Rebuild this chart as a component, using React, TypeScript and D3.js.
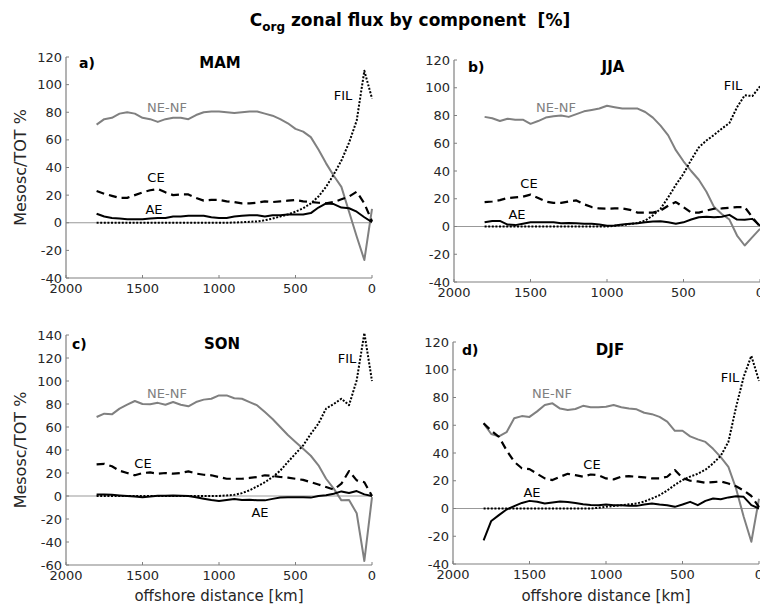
import React from "react";
import * as d3 from "d3";

const DIST = [1800, 1750, 1700, 1650, 1600, 1550, 1500, 1450, 1400, 1350, 1300, 1250, 1200, 1150, 1100, 1050, 1000, 950, 900, 850, 800, 750, 700, 650, 600, 550, 500, 450, 400, 350, 300, 250, 200, 150, 100, 50, 0];
const X_TICKS = [2000, 1500, 1000, 500, 0];
const SERIES_NAMES = ["NE-NF", "FIL", "CE", "AE"];

// MAM
const MAM_NENF = [71, 75, 76, 79, 80, 79, 76, 75, 73, 75, 76, 76, 75, 78, 80, 80.5, 80.5, 80, 79.5, 80, 80.5, 80.5, 79, 77.5, 75, 72, 68, 66, 62, 53, 43, 34, 26, 8, -10, -27, 10];
const MAM_FIL = [0, 0, 0, 0, 0, 0, 0, 0, 0, 0, 0, 0, 0, 0, 0, 0, 0, 0, 0.2, 0.4, 0.7, 1, 1.8, 3, 4.5, 6, 8, 10.5, 14, 19, 26, 35, 45, 58, 74, 110, 90];
const MAM_CE = [23, 21, 19.5, 18, 18, 20, 22, 23.5, 24.5, 22, 20, 20.5, 20.5, 18, 16, 16.5, 16.5, 15.5, 15, 14, 14, 14.5, 15.5, 15, 15.5, 16, 16.5, 15.5, 15, 14.5, 14, 15, 17, 19, 22.5, 14, 1];
const MAM_AE = [6.5, 4.5, 3.5, 3, 2.5, 2.5, 2.5, 3, 3.5, 3.5, 4.5, 4.5, 5, 5, 5, 4, 3.5, 3.5, 4.5, 5, 5.5, 5.5, 4.5, 5.5, 5.5, 6, 6, 6, 7, 11, 14, 13.5, 11, 10.5, 8, 4, 0.5];

// JJA
const JJA_NENF = [79, 78, 76, 77.7, 77, 77, 74, 76, 78.5, 79.4, 80, 79, 81, 83, 84, 85, 87, 86, 85, 85, 85, 82.5, 78.5, 72.7, 65.7, 55, 47, 40, 33.7, 25, 14, 9, 5, -6.5, -13.7, -7.7, -1.7];
const JJA_FIL = [0, 0, 0, 0, 0, 0, 0, 0, 0, 0, 0, 0, 0, 0, 0, 0, 0, 0.5, 1, 1.8, 2.6, 4.3, 8, 12.8, 21, 30, 38, 48, 57, 62, 66, 70.5, 74.6, 86, 94.6, 94, 101];
const JJA_CE = [17.6, 18, 19, 20.5, 21, 21.5, 23, 20.5, 18, 17, 17, 18, 18.8, 16, 14, 13, 12.8, 13, 13, 12, 10, 10, 10, 11.5, 15, 17.6, 14, 10, 10, 11.5, 12.8, 13, 13.5, 14, 14, 6.7, 0];
const JJA_AE = [3, 4, 4, 1.4, 1, 2, 3, 3, 3, 3, 2.4, 2.6, 2.4, 2, 2, 1.5, 0.5, 0.8, 1.4, 2, 2.4, 3, 3.6, 3.8, 3, 2, 3, 5, 6.7, 7, 6.7, 7, 8.4, 5, 4.8, 5.5, 0.5];

// SON
const SON_NENF = [68.7, 71.6, 71, 76, 79.4, 82.6, 80, 79.7, 81, 79.4, 81.7, 79.4, 78, 81.7, 83.8, 84.6, 87.5, 87.5, 85, 84.6, 81.7, 78.8, 73, 67, 60, 53, 47, 41, 35, 26.7, 15, 6.4, -3.8, -3.5, -15, -56.5, -1];
const SON_FIL = [0, 0, 0, 0, 0, 0, 0, 0, 0, 0, 0, 0, 0, 0, 0, 0, 0, 0.5, 1, 2.5, 5, 8.4, 12, 16.5, 22, 29.6, 36.8, 44, 54, 63, 76, 80, 84.6, 79, 100.6, 141.7, 100];
const SON_CE = [27.5, 28, 25.8, 22, 20, 18, 20, 20.5, 19.4, 20, 19.4, 20, 21.4, 19.5, 18.5, 18, 16.5, 15, 15, 15, 15.7, 16.5, 18, 17.5, 16.5, 16, 15, 14, 12, 10, 7.8, 5.5, 10.7, 21.7, 13.6, 12, 0];
const SON_AE = [1.4, 1.2, 1, 0.5, 0, -0.5, -1, -0.5, 0.3, 0.3, 0.5, 0.3, 0, -1, -2.3, -3.5, -4.3, -3.5, -2.6, -3.5, -3.2, -3.8, -3.8, -2.5, -1.4, -1, -1, -1, -1.4, 0, 0.6, 2, 4, 2.6, 4.3, 1.4, 0];

// DJF
const DJF_NENF = [61.4, 53.7, 52, 55, 65, 66.6, 66, 70, 74.6, 75.8, 72, 71, 71.7, 74, 73, 73, 73.4, 74.6, 73, 72, 71.5, 69, 68, 66, 62.6, 56, 56, 52, 49.8, 48, 43, 37, 30, 14.4, -6, -24, 7];
const DJF_FIL = [0, 0, 0, 0, 0, 0, 0, 0, 0, 0, 0, 0, 0, 0, 0, 0.5, 1.2, 1.8, 2.4, 3, 3.6, 5, 7.2, 9.6, 13, 17, 20.5, 23, 25, 28, 32.5, 38, 48, 73, 95, 110, 92];
const DJF_CE = [61.4, 56, 51.7, 42, 33.7, 29, 28.4, 25, 21.7, 20.5, 22.9, 25, 24, 22.9, 24.5, 24, 21.7, 21, 22.9, 23.3, 22.9, 22.5, 21.7, 21.7, 22.9, 27.7, 22, 20, 19.5, 18.5, 19, 19.5, 18, 16, 13, 9, 1];
const DJF_AE = [-22.9, -9, -4.8, -0.7, 1.7, 4, 5.5, 4.8, 3.6, 4.3, 5, 4.6, 4, 3, 2.6, 2.4, 2.9, 2.4, 2.4, 1.9, 1.9, 2.9, 3.6, 2.9, 2.4, 1.2, 2.9, 4.8, 2.4, 5.5, 7.2, 6.7, 8, 8.9, 8.4, 2.4, 0];

const FONT = "DejaVu Sans, Verdana, sans-serif";
const TXT = "#262626";
const GREY = "#808080";

type Panel = {
  tag: string;
  season: string;
  series: number[][];
  yDomain: [number, number];
  yTicks: number[];
  x0: number; x1: number; yT: number; yB: number;
  lab: { [k: string]: [number, number] };
  tagPos: [number, number];
  seasonPos: [number, number];
  showYLabel: boolean;
  showXLabel: boolean;
};

const yt1 = d3.range(-40, 121, 20);
const yt2 = d3.range(-60, 141, 20);

const PANELS: Panel[] = [
  {
    tag: "a)", season: "MAM", series: [MAM_NENF, MAM_FIL, MAM_CE, MAM_AE],
    yDomain: [-40, 120], yTicks: yt1, x0: 66, x1: 372, yT: 57, yB: 278,
    lab: { "NE-NF": [167, 107], FIL: [343, 95], CE: [156, 177], AE: [154, 209] },
    tagPos: [79, 68], seasonPos: [220, 68], showYLabel: true, showXLabel: false,
  },
  {
    tag: "b)", season: "JJA", series: [JJA_NENF, JJA_FIL, JJA_CE, JJA_AE],
    yDomain: [-40, 120], yTicks: yt1, x0: 454, x1: 760, yT: 60, yB: 282,
    lab: { "NE-NF": [556, 107], FIL: [733, 85], CE: [529, 183], AE: [517, 214] },
    tagPos: [468, 72], seasonPos: [613, 72], showYLabel: false, showXLabel: false,
  },
  {
    tag: "c)", season: "SON", series: [SON_NENF, SON_FIL, SON_CE, SON_AE],
    yDomain: [-60, 140], yTicks: yt2, x0: 66, x1: 372, yT: 335, yB: 565,
    lab: { "NE-NF": [167, 393], FIL: [347, 358], CE: [143, 463], AE: [260, 512] },
    tagPos: [72, 349], seasonPos: [222, 349], showYLabel: true, showXLabel: true,
  },
  {
    tag: "d)", season: "DJF", series: [DJF_NENF, DJF_FIL, DJF_CE, DJF_AE],
    yDomain: [-40, 120], yTicks: yt1, x0: 453, x1: 759, yT: 342, yB: 564,
    lab: { "NE-NF": [552, 393], FIL: [730, 377], CE: [592, 464], AE: [532, 492] },
    tagPos: [462, 355], seasonPos: [610, 355], showYLabel: false, showXLabel: true,
  },
];

const STYLES = [
  { stroke: GREY, dash: undefined as string | undefined, w: 2 },
  { stroke: "#000", dash: "2,1.6", w: 2 },
  { stroke: "#000", dash: "8,5", w: 2.2 },
  { stroke: "#000", dash: undefined as string | undefined, w: 2 },
];

function PanelView({ p }: { p: Panel }) {
  const x = d3.scaleLinear().domain([2000, 0]).range([p.x0, p.x1]);
  const y = d3.scaleLinear().domain(p.yDomain).range([p.yB, p.yT]);
  const line = d3.line<number>().x((_, i) => x(DIST[i])).y((v) => y(v));
  const order = [0, 2, 3, 1];
  return (
    <g>
      <line x1={p.x0} x2={p.x1} y1={y(0)} y2={y(0)} stroke="#999" strokeWidth={1} />
      <line x1={p.x0} x2={p.x0} y1={p.yT} y2={p.yB} stroke={GREY} strokeWidth={1.2} />
      <line x1={p.x0} x2={p.x1} y1={p.yB} y2={p.yB} stroke={GREY} strokeWidth={1.2} />
      {p.yTicks.map((t) => (
        <g key={"y" + t}>
          <line x1={p.x0} x2={p.x0 + 3} y1={y(t)} y2={y(t)} stroke={GREY} strokeWidth={1} />
          <text x={p.x0 - 4} y={y(t) + 4.5} textAnchor="end" fontSize={13} fill={TXT} fontFamily={FONT}>{t}</text>
        </g>
      ))}
      {X_TICKS.map((t) => (
        <g key={"x" + t}>
          <line x1={x(t)} x2={x(t)} y1={p.yB} y2={p.yB - 3} stroke={GREY} strokeWidth={1} />
          <text x={x(t)} y={p.yB + 15} textAnchor="middle" fontSize={13} fill={TXT} fontFamily={FONT}>{t}</text>
        </g>
      ))}
      {order.map((k) => (
        <path key={k} d={line(p.series[k]) || ""} fill="none" stroke={STYLES[k].stroke}
          strokeWidth={STYLES[k].w} strokeDasharray={STYLES[k].dash} strokeLinejoin="round" />
      ))}
      {SERIES_NAMES.map((n, k) => (
        <text key={n} x={p.lab[n][0]} y={p.lab[n][1] + 5} textAnchor="middle" fontSize={13}
          fill={k === 0 ? GREY : "#000"} fontFamily={FONT}>{n}</text>
      ))}
      <text x={p.tagPos[0]} y={p.tagPos[1]} fontSize={14} fontWeight="bold" fill="#000" fontFamily={FONT}>{p.tag}</text>
      <text x={p.seasonPos[0]} y={p.seasonPos[1]} textAnchor="middle" fontSize={15} fontWeight="bold" fill="#000" fontFamily={FONT}>{p.season}</text>
      {p.showYLabel && (
        <text transform={`translate(26,${(p.yT + p.yB) / 2}) rotate(-90)`} textAnchor="middle" fontSize={16} fill={TXT} fontFamily={FONT}>Mesosc/TOT %</text>
      )}
      {p.showXLabel && (
        <text x={(p.x0 + p.x1) / 2} y={601} textAnchor="middle" fontSize={15} fill={TXT} fontFamily={FONT}>offshore distance [km]</text>
      )}
    </g>
  );
}

export default function App() {
  return (
    <svg width={760} height={606} style={{ position: "absolute", left: 0, top: 0, background: "#fff" }}>
      <rect width={760} height={606} fill="#fff" />
      <text x={410} y={26} textAnchor="middle" fontSize={17} fontWeight="bold" fill="#000" fontFamily={FONT}>
        C<tspan fontSize={12} dy={5}>org</tspan><tspan dy={-5}>{" zonal flux by component\u00A0\u00A0[%]"}</tspan>
      </text>
      {PANELS.map((p) => <PanelView key={p.tag} p={p} />)}
    </svg>
  );
}
